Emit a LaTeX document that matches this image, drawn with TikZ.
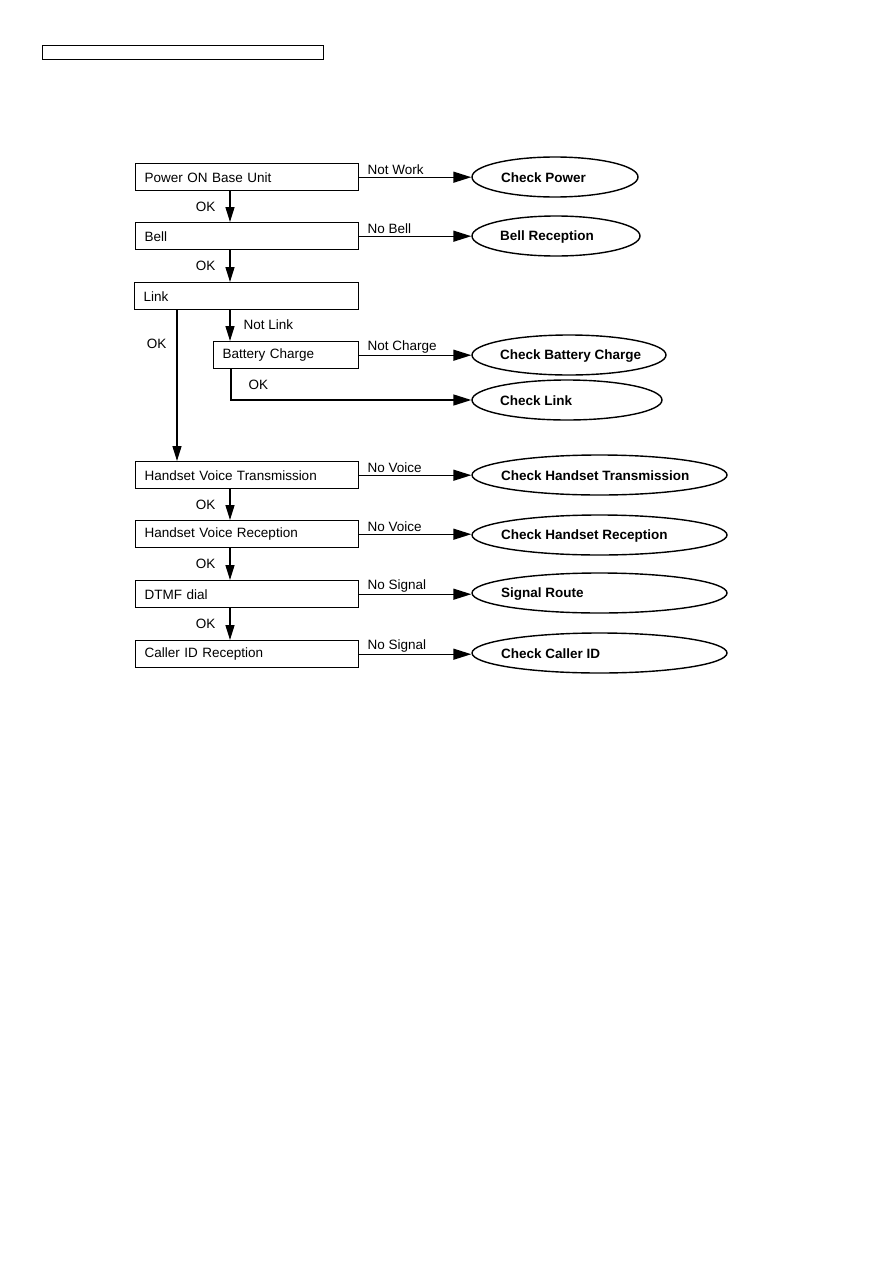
\documentclass[tikz,border=0pt]{standalone}
\usepackage{fontspec}
\setmainfont{Liberation Sans}
\usetikzlibrary{arrows.meta,shapes.geometric}
\begin{document}
\begin{tikzpicture}[x=1pt,y=-1pt,line width=1.4pt,
  font=\fontsize{13.5}{16}\selectfont,
  box/.style={draw,rectangle,anchor=north west,minimum height=27pt,inner xsep=9pt,inner ysep=0pt,text width=#1,align=left},
  oval/.style={draw,ellipse,inner sep=0pt,minimum width=#1,minimum height=40pt},
  otext/.style={anchor=west,inner sep=0pt,font=\fontsize{13.5}{16}\selectfont\bfseries},
  arr/.style={-{Triangle[length=18pt,width=11pt]}},
  varr/.style={-{Triangle[length=15pt,width=9pt]}},
  lbl/.style={anchor=south west,inner sep=1.5pt,xshift=6pt},
  oklbl/.style={anchor=east,inner sep=0pt,xshift=-14pt}]
\useasboundingbox (0,0) rectangle (893,1263);
\node[draw,line width=1.2pt,anchor=north west,minimum width=281pt,minimum height=14pt,inner sep=0pt] (hdr) at (42,45) {};
% left column boxes
\node[box=205pt] (pw) at (135,163) {Power ON Base Unit};
\node[box=205pt] (bl) at (135,222) {Bell};
\node[box=206pt] (lk) at (134,282) {Link};
\node[box=127pt] (bc) at (213,341) {Battery Charge};
\node[box=205pt] (ht) at (135,461) {Handset Voice Transmission};
\node[box=205pt] (hr) at (135,520) {Handset Voice Reception};
\node[box=205pt] (dt) at (135,580) {DTMF dial};
\node[box=205pt] (ci) at (135,640) {Caller ID Reception};
% ellipses
\node[oval=166pt] (e1) at (555,177) {};
\node[otext] at ([xshift=29pt,yshift=-1pt]e1.west) {Check Power};
\node[oval=168pt] (e2) at (556,236) {};
\node[otext] at ([xshift=28pt,yshift=-1pt]e2.west) {Bell Reception};
\node[oval=194pt] (e3) at (569,355) {};
\node[otext] at ([xshift=28pt,yshift=-1pt]e3.west) {Check Battery Charge};
\node[oval=190pt] (e4) at (567,400) {};
\node[otext] at ([xshift=28pt,yshift=-1pt]e4.west) {Check Link};
\node[oval=255pt] (e5) at (599.5,475) {};
\node[otext] at ([xshift=29pt,yshift=-1pt]e5.west) {Check Handset Transmission};
\node[oval=255pt] (e6) at (599.5,535) {};
\node[otext] at ([xshift=29pt,yshift=-1pt]e6.west) {Check Handset Reception};
\node[oval=255pt] (e7) at (599.5,593) {};
\node[otext] at ([xshift=29pt,yshift=-1pt]e7.west) {Signal Route};
\node[oval=255pt] (e8) at (599.5,653) {};
\node[otext] at ([xshift=29pt,yshift=-1pt]e8.west) {Check Caller ID};
% horizontal arrows
\draw[arr] (pw.east) -- (pw.east -| e1.west) node[pos=0,lbl] {Not Work};
\draw[arr] (bl.east) -- (bl.east -| e2.west) node[pos=0,lbl] {No Bell};
\draw[arr] (bc.east) -- (bc.east -| e3.west) node[pos=0,lbl] {Not Charge};
\draw[arr] (ht.east) -- (ht.east -| e5.west) node[pos=0,lbl] {No Voice};
\draw[arr] (hr.east) -- (hr.east -| e6.west) node[pos=0,lbl] {No Voice};
\draw[arr] (dt.east) -- (dt.east -| e7.west) node[pos=0,lbl] {No Signal};
\draw[arr] (ci.east) -- (ci.east -| e8.west) node[pos=0,lbl] {No Signal};
% vertical arrows
\coordinate (cx) at (230,0);
\coordinate (lx) at (177,0);
\coordinate (bx) at (231,0);
\draw[varr] (pw.south -| cx) -- node[oklbl] {OK} (bl.north -| cx);
\draw[varr] (bl.south -| cx) -- node[oklbl] {OK} (lk.north -| cx);
\draw[varr] (lk.south -| cx) -- node[anchor=west,inner sep=0pt,xshift=13pt,pos=0.48] {Not Link} (bc.north -| cx);
\draw[varr] (lk.south -| lx) -- node[anchor=east,inner sep=0pt,xshift=-10pt,pos=0.22] {OK} (ht.north -| lx);
\draw[arr] (bc.south -| bx) -- (e4.west -| bx) -- node[anchor=south west,inner sep=0pt,pos=0.07,yshift=10pt] {OK} (e4.west);
\draw[varr] (ht.south -| cx) -- node[oklbl] {OK} (hr.north -| cx);
\draw[varr] (hr.south -| cx) -- node[oklbl] {OK} (dt.north -| cx);
\draw[varr] (dt.south -| cx) -- node[oklbl] {OK} (ci.north -| cx);
\end{tikzpicture}
\end{document}
